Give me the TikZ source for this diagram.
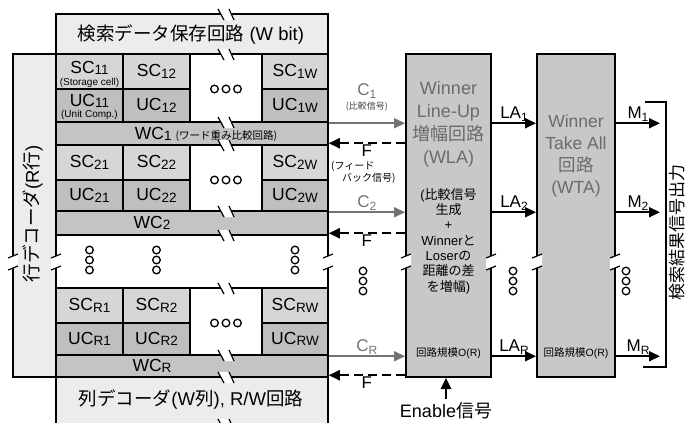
\documentclass[tikz,border=0pt]{standalone}
\usepackage{fontspec}
\setmainfont{Liberation Sans}
\newfontfamily\jp{Noto Sans CJK JP}
\usetikzlibrary{arrows.meta,positioning,calc}
\definecolor{lightbox}{gray}{0.925}
\definecolor{scgray}{gray}{0.84}
\definecolor{ucgray}{gray}{0.75}
\definecolor{wcgray}{gray}{0.77}
\definecolor{blockgray}{gray}{0.785}
\definecolor{titlegray}{gray}{0.42}
\definecolor{arrgray}{gray}{0.45}
\newcommand{\fsz}[2]{\fontsize{#1}{#2}\selectfont}
\newcommand{\idx}[1]{\raisebox{-1.5pt}{\fsz{13.5}{14}#1}}
\newcommand{\sidx}[1]{\raisebox{-3pt}{\fsz{12}{12}#1}}
\tikzstyle{block} = [draw, line width=2pt, fill=blockgray, inner sep=0pt, minimum height=323pt]
\tikzstyle{wcbar} = [draw, line width=1.5pt, fill=wcgray, inner sep=0pt, minimum width=272pt]
\tikzstyle{cell} = [draw, line width=1.5pt]
\tikzstyle{celllbl} = [inner sep=0pt, font=\fsz{17.5}{19}]
\tikzstyle{note} = [inner sep=0pt, font=\fsz{10}{11}]
\tikzstyle{sig} = [inner sep=1pt, font=\fsz{17}{19}]
\tikzstyle{carrow} = [->, line width=2pt, draw=arrgray]
\tikzstyle{farrow} = [->, line width=1.8pt, dash pattern=on 9pt off 5pt]
\tikzstyle{sarrow} = [->, line width=2pt]
\tikzstyle{dot} = [line width=1.3pt]
\tikzstyle{brk} = [line width=1.2pt]
% three small circles, across and down
\newcommand{\tridoth}[2]{\foreach \k in {-1,0,1} \draw[dot] ({#1+\k*11.5},#2) circle (3.8pt);}
\newcommand{\tridotv}[2]{\foreach \k in {-1,0,1} \draw[dot] (#1,{#2+\k*10}) circle (3.8pt);}
% break marks on horizontal and vertical lines
\newcommand{\brkh}[2]{%
  \fill[white] ({#1-8},{#2-5}) -- ({#1+3},{#2-5}) -- ({#1+8},{#2+6}) -- ({#1-2},{#2+6}) -- cycle;
  \draw[brk] ({#1-8},{#2-5}) -- ({#1-2},{#2+6}) ({#1+3},{#2-5}) -- ({#1+8},{#2+6});}
\newcommand{\brkv}[2]{%
  \fill[white] ({#1-5},{#2-4}) -- ({#1+5},{#2-8}) -- ({#1+5},{#2+4}) -- ({#1-5},{#2+8}) -- cycle;
  \draw[brk] ({#1-5},{#2-4}) -- ({#1+5},{#2-8}) ({#1-5},{#2+8}) -- ({#1+5},{#2+4});}
\begin{document}
\begin{tikzpicture}[x=1pt, y=-1pt, >={Triangle[length=11pt,width=10pt]}, font=\fsz{17.5}{20}]
    \useasboundingbox (0,0) rectangle (686,423);
    % Decoders and storage circuit
    \fill[lightbox] (13,54) rectangle (56,377);
    \filldraw[fill=lightbox, line width=2pt] (56,14) rectangle (328,54);
    \fill[lightbox] (56,377) rectangle (328,424);
    \draw[line width=2pt] (56,377) -- (56,424) (328,377) -- (328,424);

    % Cell rows
    \foreach \row/\ya/\yb/\yc/\yd in {1/54/89/122/145, 2/145/180/211/235, R/288/323/355/377} {
        \filldraw[cell, fill=scgray] (56,\ya) rectangle (123,\yb);
        \filldraw[cell, fill=scgray] (123,\ya) rectangle (190,\yb);
        \filldraw[cell, fill=scgray] (262,\ya) rectangle (328,\yb);
        \filldraw[cell, fill=ucgray] (56,\yb) rectangle (123,\yc);
        \filldraw[cell, fill=ucgray] (123,\yb) rectangle (190,\yc);
        \filldraw[cell, fill=ucgray] (262,\yb) rectangle (328,\yc);
        \filldraw[cell, fill=white] (190,\ya) rectangle (262,\yc);
        \node[wcbar, minimum height={(\yd-\yc)*1pt}] (wc\row) at (192,{(\yc+\yd)/2}) {};
        \tridoth{226}{\yb}
    }
    \draw[line width=2pt] (13,54) rectangle (328,377);
    \draw[line width=1.5pt] (56,54) -- (56,377);

    % WLA and WTA
    \node[block, minimum width=85pt] (wla) at (448.5,215.5) {};
    \node[block, minimum width=78pt] (wta) at (576,215.5) {};

    % Breaks
    \foreach \y in {14,54,122,145,211,235,288,355,377,424} {\brkh{226}{\y}}
    \foreach \x in {13,56,328,406,491,537,615} {\brkv{\x}{262}}

    % Dots
    \foreach \x in {89.5,156.5,295} {\tridotv{\x}{260}}
    \foreach \x in {363,513,626} {\tridotv{\x}{281}}

    % Texts
    \node[font=\fsz{18.5}{21}] (store) at (191,35) {{\jp 検索データ保存回路} (W bit)};
    \node[font=\fsz{18.5}{21}] (coldec) at (191,400) {{\jp 列デコーダ}(W{\jp 列}), R/W{\jp 回路}};
    \node[font=\fsz{18.5}{21}, rotate=90] (rowdec) at (33,214) {{\jp 行デコーダ}(R{\jp 行})};

    \node[celllbl] (sc11) at (89.5,68) {SC\idx{11}};
    \node[note] (sc11note) at (89.5,83) {(Storage cell)};
    \node[celllbl] (uc11) at (89.5,101) {UC\idx{11}};
    \node[note] (uc11note) at (89.5,115) {(Unit Comp.)};
    \foreach \row/\ya/\yb in {2/145/180, R/288/323} {
        \node[celllbl] (sc\row1) at (89.5,{(\ya+\yb)/2}) {SC\idx{\row1}};
    }
    \foreach \row/\yb/\yc in {2/180/211, R/323/355} {
        \node[celllbl] (uc\row1) at (89.5,{(\yb+\yc)/2}) {UC\idx{\row1}};
    }
    \foreach \row/\ya/\yb/\yc in {1/54/89/122, 2/145/180/211, R/288/323/355} {
        \node[celllbl] (sc\row2) at (156.5,{(\ya+\yb)/2}) {SC\idx{\row2}};
        \node[celllbl] (uc\row2) at (156.5,{(\yb+\yc)/2}) {UC\idx{\row2}};
        \node[celllbl] (sc\row w) at (295,{(\ya+\yb)/2}) {SC\idx{\row W}};
        \node[celllbl] (uc\row w) at (295,{(\yb+\yc)/2}) {UC\idx{\row W}};
    }
    \node[celllbl] (wc1lbl) at (206,134) {WC\idx{1}\hspace{4pt}{\jp\fsz{10.5}{12}(ワード重み比較回路)}};
    \node[celllbl] (wc2lbl) at (152,223) {WC\idx{2}};
    \node[celllbl] (wcRlbl) at (152,366) {WC\idx{R}};

    \node[font=\fsz{18}{23}, text=titlegray, align=center] (wlatitle) at (448.5,124) {Winner\\Line-Up\\{\jp 増幅回路}\\(WLA)};
    \node[font=\fsz{13}{15.3}, align=center] (wladesc) at (448.5,241) {({\jp 比較信号}\\{\jp 生成}\\+\\Winner{\jp と}\\Loser{\jp の}\\{\jp 距離の差}\\{\jp を増幅})};
    \node[font=\fsz{10.5}{12}] (wlasize) at (448.5,353) {{\jp 回路規模}O(R)};
    \node[font=\fsz{17.5}{22}, text=titlegray, align=center] (wtatitle) at (576,156) {Winner\\Take All\\{\jp 回路}\\(WTA)};
    \node[font=\fsz{10.5}{12}] (wtasize) at (576,353) {{\jp 回路規模}O(R)};

    % Connections
    \coordinate (mtip) at (660,0);
    \foreach \row in {1,2,R} {
        \coordinate (c\row) at ([yshift=-2pt]wc\row.north east);
        \coordinate (f\row) at ([yshift=2.5pt]wc\row.south east);
        \draw[farrow] (f\row -| wla.west) -- node[sig, below=0pt] (flbl\row) {F} (f\row);
        \draw[sarrow] (c\row -| wla.east) -- node[sig, above=0pt] (la\row) {LA\sidx{\row}} (c\row -| wta.west);
        \draw[sarrow] (c\row -| wta.east) -- node[sig, above=0pt] (m\row) {M\sidx{\row}} (c\row -| mtip);
    }
    \draw[carrow] (c1) -- node[note, above=11pt, text=black!75, font=\jp\fsz{9}{10}] (cmt1) {(比較信号)} (c1 -| wla.west);
    \node[sig, text=arrgray, above=1pt of cmt1] (clbl1) {C\sidx{1}};
    \draw[carrow] (c2) -- node[sig, above=0pt, text=arrgray] (clbl2) {C\sidx{2}} (c2 -| wla.west);
    \draw[carrow] (cR) -- node[sig, above=0pt, text=arrgray] (clblR) {C\sidx{R}} (cR -| wla.west);
    \node[note, font=\jp\fsz{10}{12}, align=left, anchor=north west] (fbnote) at (331,161.5) {(フィード\\\hspace*{11pt}バック信号)};

    % Output bracket
    \coordinate (brtop) at (645,102);
    \coordinate (brcorner) at (666,367);
    \coordinate (brbot) at (643,367);
    \draw[line width=2pt] (brtop) -| (brcorner) -- (brbot);
    \node[font=\jp\fsz{17}{20}, rotate=90] (outname) at (677,232) {検索結果信号出力};

    % Enable
    \node[font=\fsz{18}{20}] (enable) at (446,411) {Enable{\jp 信号}};
    \draw[->, line width=2.5pt] (enable.north) -- (enable.north |- wla.south);
\end{tikzpicture}
\end{document}
